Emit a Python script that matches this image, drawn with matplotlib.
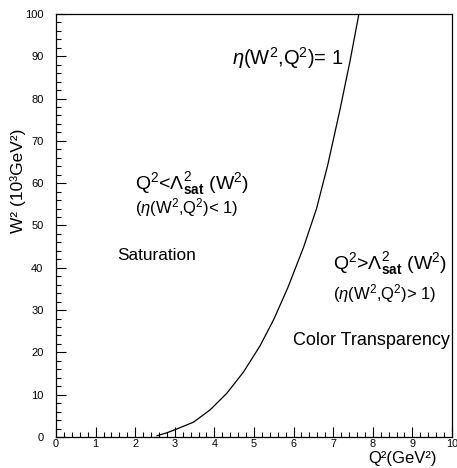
import numpy as np
import matplotlib
matplotlib.use('Agg')
import matplotlib.pyplot as plt
from matplotlib.ticker import MultipleLocator

plt.rcParams['font.family'] = ['Liberation Sans', 'DejaVu Sans']
plt.rcParams['mathtext.fontset'] = 'custom'
plt.rcParams['mathtext.rm'] = 'Liberation Sans'
plt.rcParams['mathtext.it'] = 'Liberation Sans:italic'
plt.rcParams['mathtext.bf'] = 'Liberation Sans:bold'

# eta(W^2, Q^2) = 1 boundary
q2 = [2.55, 2.8, 3.0, 3.47, 3.89, 4.31, 4.73, 5.15, 5.50, 5.85, 6.25, 6.58, 6.86, 7.17, 7.42, 7.65]
w2 = [0.3, 1.0, 1.7, 3.5, 6.4, 10.3, 15.3, 21.5, 27.8, 35.2, 44.8, 54.0, 64.2, 77.3, 88.6, 100.0]

fig = plt.figure(figsize=(4.57, 4.68), dpi=100)
ax = fig.add_axes([0.1225, 0.0662, 0.8665, 0.904])

ax.plot(q2, w2, color='black', lw=0.9)

ax.set_xlim(0, 10)
ax.set_ylim(0, 100)
ax.xaxis.set_major_locator(MultipleLocator(1))
ax.xaxis.set_minor_locator(MultipleLocator(0.2))
ax.yaxis.set_major_locator(MultipleLocator(10))
ax.yaxis.set_minor_locator(MultipleLocator(2))
ax.tick_params(which='both', direction='in', top=False, right=False,
               labelsize=8, width=0.8)
ax.tick_params(which='major', length=7)
ax.tick_params(which='minor', length=3.5)
ax.tick_params(axis='x', which='major', pad=1.5, labelsize=7.8)
ax.tick_params(axis='y', which='major', pad=9)
for s in ax.spines.values():
    s.set_linewidth(0.9)

# axis titles
fig.text(437 / 457, 1 - 466 / 468, 'Q²(GeV²)', ha='right', va='bottom', fontsize=12)
fig.text(18 / 457, 1 - 181 / 468, 'W² (10³GeV²)', ha='center', va='center',
         rotation=90, fontsize=12.5)

# annotations
ax.text(4.44, 89.6, r'$\eta$(W$^2$,Q$^2$)= 1', fontsize=14.5, ha='left', va='center')
ax.text(2.0, 59.8, r'Q$^2$<$\Lambda^2_{\mathbf{sat}}$ (W$^2$)', fontsize=14, ha='left', va='center')
ax.text(2.0, 54.2, r'($\eta$(W$^2$,Q$^2$)< 1)', fontsize=12, ha='left', va='center')
ax.text(1.54, 43.0, 'Saturation', fontsize=12.4, ha='left', va='center')
ax.text(7.0, 40.9, r'Q$^2$>$\Lambda^2_{\mathbf{sat}}$ (W$^2$)', fontsize=14, ha='left', va='center')
ax.text(7.0, 33.9, r'($\eta$(W$^2$,Q$^2$)> 1)', fontsize=12, ha='left', va='center')
ax.text(5.98, 22.9, 'Color Transparency', fontsize=13, ha='left', va='center')

fig.savefig('out.png', dpi=100)
